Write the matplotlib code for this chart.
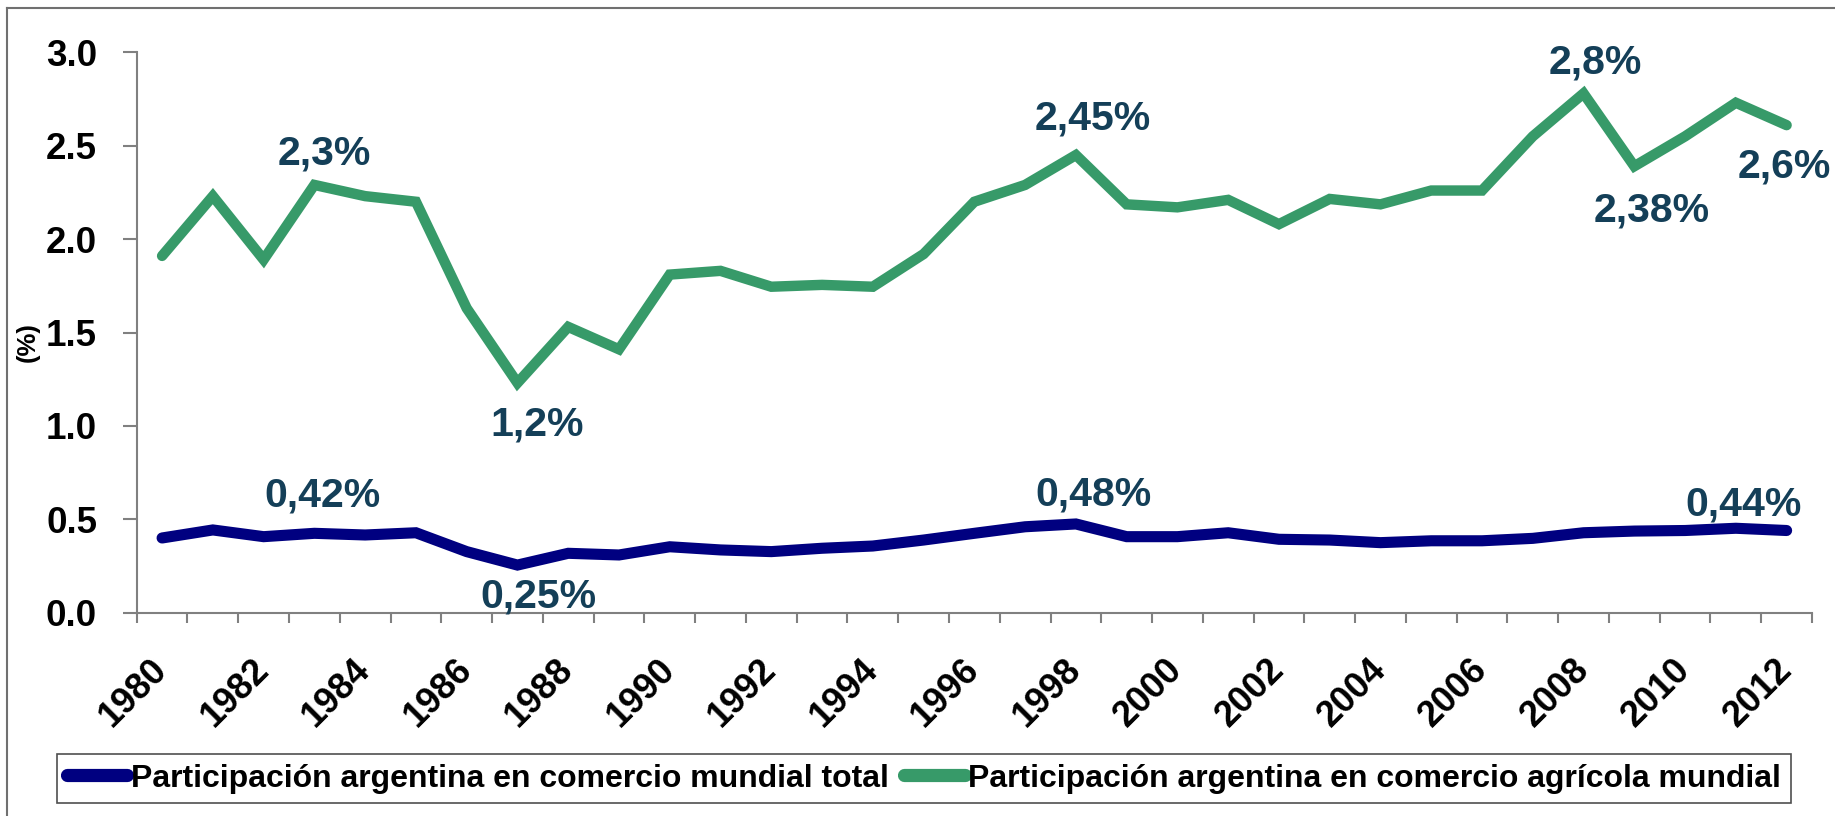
import matplotlib
matplotlib.use("Agg")
import matplotlib.pyplot as plt
from matplotlib.lines import Line2D
from matplotlib.transforms import ScaledTranslation

plt.rcParams['font.family'] = ['Liberation Sans', 'DejaVu Sans']
plt.rcParams['font.weight'] = 'bold'

years = list(range(1980, 2013))
total = [0.40, 0.443, 0.407, 0.425, 0.416, 0.428, 0.327, 0.255, 0.318, 0.309,
         0.353, 0.336, 0.327, 0.345, 0.357, 0.389, 0.425, 0.46, 0.475, 0.407,
         0.407, 0.428, 0.393, 0.389, 0.375, 0.385, 0.385, 0.398, 0.428, 0.437,
         0.44, 0.452, 0.44]
agri = [1.91, 2.23, 1.89, 2.29, 2.23, 2.20, 1.63, 1.23, 1.53, 1.41,
        1.81, 1.83, 1.745, 1.755, 1.745, 1.92, 2.20, 2.29, 2.45, 2.186,
        2.17, 2.21, 2.08, 2.215, 2.186, 2.26, 2.26, 2.55, 2.78, 2.39,
        2.55, 2.73, 2.61]
labels_total = [("0,42%", 3.16, 0.63), ("0,25%", 7.41, 0.089),
                ("0,48%", 18.34, 0.635), ("0,44%", 31.16, 0.577)]
labels_agri = [("2,3%", 3.20, 2.456), ("1,2%", 7.39, 1.005), ("2,45%", 18.34, 2.643),
               ("2,8%", 28.24, 2.944), ("2,38%", 29.35, 2.152), ("2,6%", 31.96, 2.388)]
name_total = "Participación argentina en comercio mundial total"
name_agri = "Participación argentina en comercio agrícola mundial"

W, H = 1835, 816
fig = plt.figure(figsize=(W / 100, H / 100), dpi=100)
ax = fig.add_axes([136.7 / W, 1 - 612.7 / H, (1812 - 136.7) / W, (612.7 - 52.3) / H])

GREEN = '#379a69'
NAVY = '#000080'
LBL = '#143f58'

x = list(range(len(years)))
l1, = ax.plot(x, total, color=NAVY, lw=8, solid_capstyle='round', solid_joinstyle='miter', zorder=3)
l2, = ax.plot(x, agri, color=GREEN, lw=7.5, solid_capstyle='round', solid_joinstyle='miter', zorder=3)

for t, xx, yy in labels_total + labels_agri:
    ax.text(xx, yy, t, color=LBL, fontsize=29.5, fontweight='bold', ha='center', va='center',
            clip_on=False, zorder=4)

ax.set_xlim(-0.5, len(years) - 0.5)
ax.set_ylim(0, 3.0)
ax.set_yticks([0, 0.5, 1.0, 1.5, 2.0, 2.5, 3.0])
ax.set_yticklabels([f"{v:.1f}" for v in [0, 0.5, 1.0, 1.5, 2.0, 2.5, 3.0]])
ax.tick_params(axis='y', length=10, width=1.5, color='#808080', pad=18.5, labelsize=26.5)

ax.set_xticks([i - 0.5 for i in range(len(years) + 1)])
ax.set_xticklabels([])
ax.tick_params(axis='x', which='major', length=7.5, width=1.5, color='#808080', direction='out')
ax.set_xticks(x[::2], minor=True)
ax.set_xticklabels([str(y) for y in years[::2]], minor=True, rotation=45, ha='right',
                   va='center', rotation_mode='anchor', fontsize=26, fontweight='bold')
ax.tick_params(axis='x', which='minor', length=0, pad=37)

for s in ['top', 'right']:
    ax.spines[s].set_visible(False)
for s in ['left', 'bottom']:
    ax.spines[s].set_color('#808080')
    ax.spines[s].set_linewidth(1.5)

fig.text(28 / W, 1 - 342 / H, "(%)", rotation=90, fontsize=18.5, fontweight='bold',
         ha='center', va='center')

h1 = Line2D([], [], color=NAVY, lw=9.5, solid_capstyle='round')
h2 = Line2D([], [], color=GREEN, lw=9.5, solid_capstyle='round')
leg = fig.legend([h1, h2], [name_total, name_agri], loc='center',
                 bbox_to_anchor=(924 / W, 1 - 778.5 / H), ncol=2, fontsize=23,
                 handlelength=1.9, handletextpad=0.1, columnspacing=0.5,
                 borderpad=0.3, fancybox=False, frameon=True)
leg.get_frame().set_edgecolor('#222222')
leg.get_frame().set_linewidth(1.2)
for t in leg.get_texts():
    t.set_fontweight('bold')

fig.add_artist(Line2D([7 / W, 7 / W], [0, 1 - 8 / H], color='#707070', lw=1.5))
fig.add_artist(Line2D([7 / W, 1], [1 - 8 / H, 1 - 8 / H], color='#707070', lw=1.5))

fig.savefig("out.png", dpi=100)
